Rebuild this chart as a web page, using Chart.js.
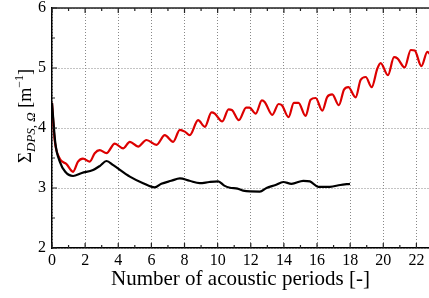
<!DOCTYPE html>
<html>
<head>
<meta charset="utf-8">
<script src="https://cdn.jsdelivr.net/npm/chart.js@4/dist/chart.umd.min.js"></script>
<style>
  html, body { margin: 0; padding: 0; background: #fff; }
  #wrap { width: 429px; height: 298px; }
</style>
</head>
<body>
<div id="wrap"><canvas id="c"></canvas></div>
<script>
// red curve (oscillating)
const redX = [0, 0.16, 0.47, 0.87, 1.27, 1.57, 1.87, 2.28, 2.58, 2.88, 3.29, 3.79, 4.29, 4.7, 5.2, 5.7,
  6.31, 6.81, 7.31, 7.72, 8.02, 8.32, 8.82, 9.23, 9.63, 9.83, 10.28, 10.66, 10.86, 11.28, 11.72, 11.92,
  12.3, 12.67, 12.85, 13.3, 13.68, 13.88, 14.28, 14.6, 14.88, 15.31, 15.61, 15.92, 16.32, 16.62, 16.92,
  17.32, 17.63, 17.89, 18.33, 18.63, 18.94, 19.3, 19.64, 19.84, 20.28, 20.65, 20.85, 21.29, 21.66, 21.9,
  22.3, 22.66, 22.9];
const redY = [4.42, 3.8, 3.49, 3.4, 3.27, 3.44, 3.49, 3.44, 3.58, 3.63, 3.58, 3.74, 3.66, 3.77, 3.69, 3.8,
  3.72, 3.88, 3.77, 3.97, 3.94, 3.88, 4.13, 4.02, 4.26, 4.24, 4.11, 4.31, 4.3, 4.13, 4.34, 4.34,
  4.24, 4.46, 4.43, 4.22, 4.4, 4.38, 4.18, 4.42, 4.42, 4.2, 4.47, 4.5, 4.29, 4.52, 4.56,
  4.38, 4.64, 4.68, 4.51, 4.8, 4.85, 4.68, 4.99, 5.08, 4.88, 5.18, 5.16, 5.01, 5.3, 5.29,
  5.03, 5.27, 5.2];

// black curve
const blackX = [0, 0.2, 0.47, 0.8, 1.27, 1.8, 2.48, 2.9, 3.29, 3.7, 4.7, 5.5, 6.2, 6.6, 7.2, 7.72, 8.3,
  8.92, 9.5, 10.03, 10.4, 10.74, 11.2, 11.54, 12.55, 12.95, 13.5, 13.96, 14.46, 15.17, 15.57, 16.07,
  16.78, 17.4, 17.99];
const blackY = [4.42, 3.75, 3.44, 3.27, 3.2, 3.25, 3.3, 3.37, 3.45, 3.38, 3.19, 3.08, 3.01, 3.07, 3.12, 3.16, 3.12,
  3.08, 3.1, 3.11, 3.04, 3.005, 2.99, 2.955, 2.94, 3.0, 3.05, 3.1, 3.07, 3.12, 3.11, 3.02,
  3.02, 3.05, 3.07];

const xTicks = [0, 2, 4, 6, 8, 10, 12, 14, 16, 18, 20, 22];
const yTicks = [2, 3, 4, 5, 6];

const FONT = 'Liberation Serif';
const toPts = (xs, ys) => xs.map((x, i) => ({x: x, y: ys[i]}));

// frame on top + inner tick marks + y title
const frame = {
  id: 'frame',
  afterDraw(chart) {
    const ctx = chart.ctx, a = chart.chartArea;
    const xs = chart.scales.x, ys = chart.scales.y;
    ctx.save();
    ctx.strokeStyle = '#222';
    ctx.lineWidth = 1.5;
    ctx.beginPath();
    ctx.moveTo(a.left, a.top); ctx.lineTo(a.right, a.top);
    ctx.stroke();
    ctx.lineWidth = 1.2;
    ctx.beginPath();
    for (let v = 2; v <= 6; v += 0.5) {
      const p = ys.getPixelForValue(v);
      const len = Number.isInteger(v) ? 5 : 3;
      ctx.moveTo(a.left, p); ctx.lineTo(a.left + len, p);
    }
    for (let v = 0; v <= 23; v += 1) {
      const p = xs.getPixelForValue(v);
      if (p > a.right) break;
      const len = v % 2 === 0 ? 5 : 3;
      ctx.moveTo(p, a.bottom); ctx.lineTo(p, a.bottom - len);
      ctx.moveTo(p, a.top); ctx.lineTo(p, a.top + len);
    }
    ctx.stroke();

    const parts = [
      {t: 'Σ', f: '19px "' + FONT + '"', dy: 0},
      {t: 'DPS, Ω', f: 'italic 13px "' + FONT + '"', dy: 4},
      {t: ' [m', f: '18px "' + FONT + '"', dy: 0},
      {t: '−1', f: '12px "' + FONT + '"', dy: -8},
      {t: ']', f: '18px "' + FONT + '"', dy: 0}
    ];
    let total = 0;
    parts.forEach(p => { ctx.font = p.f; p.w = ctx.measureText(p.t).width; total += p.w; });
    ctx.translate(31, 116);
    ctx.rotate(-Math.PI / 2);
    ctx.fillStyle = '#000';
    ctx.textBaseline = 'alphabetic';
    let x = -total / 2;
    parts.forEach(p => { ctx.font = p.f; ctx.fillText(p.t, x, p.dy); x += p.w; });
    ctx.restore();
  }
};

new Chart(document.getElementById('c'), {
  type: 'line',
  data: {
    datasets: [
      {
        data: toPts(blackX, blackY),
        borderColor: '#000',
        borderWidth: 2.2,
        pointRadius: 0,
        cubicInterpolationMode: 'monotone'
      },
      {
        data: toPts(redX, redY),
        borderColor: '#dd0000',
        borderWidth: 2.2,
        pointRadius: 0,
        cubicInterpolationMode: 'monotone'
      }
    ]
  },
  options: {
    responsive: true,
    maintainAspectRatio: false,
    animation: false,
    layout: { padding: 0 },
    plugins: { legend: { display: false }, tooltip: { enabled: false } },
    scales: {
      x: {
        type: 'linear',
        min: 0,
        max: 22.76,
        afterBuildTicks: s => { s.ticks = xTicks.map(v => ({value: v})); },
        afterFit: s => { s.height = 50; s.paddingRight = 0; },
        ticks: { color: '#000', font: { family: FONT, size: 16 }, padding: 3, maxRotation: 0 },
        grid: { color: '#888', lineWidth: 1, drawTicks: false },
        border: { display: true, color: '#000', width: 1.5, dash: [1, 2] },
        title: { display: true, text: 'Number of acoustic periods [-]', color: '#000',
                 font: { family: FONT, size: 21 }, padding: { top: 0, bottom: 6 } }
      },
      y: {
        min: 2,
        max: 6,
        afterBuildTicks: s => { s.ticks = yTicks.map(v => ({value: v})); },
        afterFit: s => { s.width = 52; s.paddingTop = 8; s.paddingBottom = 0; },
        ticks: { color: '#000', font: { family: FONT, size: 16 }, padding: 6 },
        grid: { color: '#888', lineWidth: 1, drawTicks: false },
        border: { display: true, color: '#000', width: 1.5, dash: [1, 2] }
      }
    }
  },
  plugins: [frame]
});
</script>
</body>
</html>
